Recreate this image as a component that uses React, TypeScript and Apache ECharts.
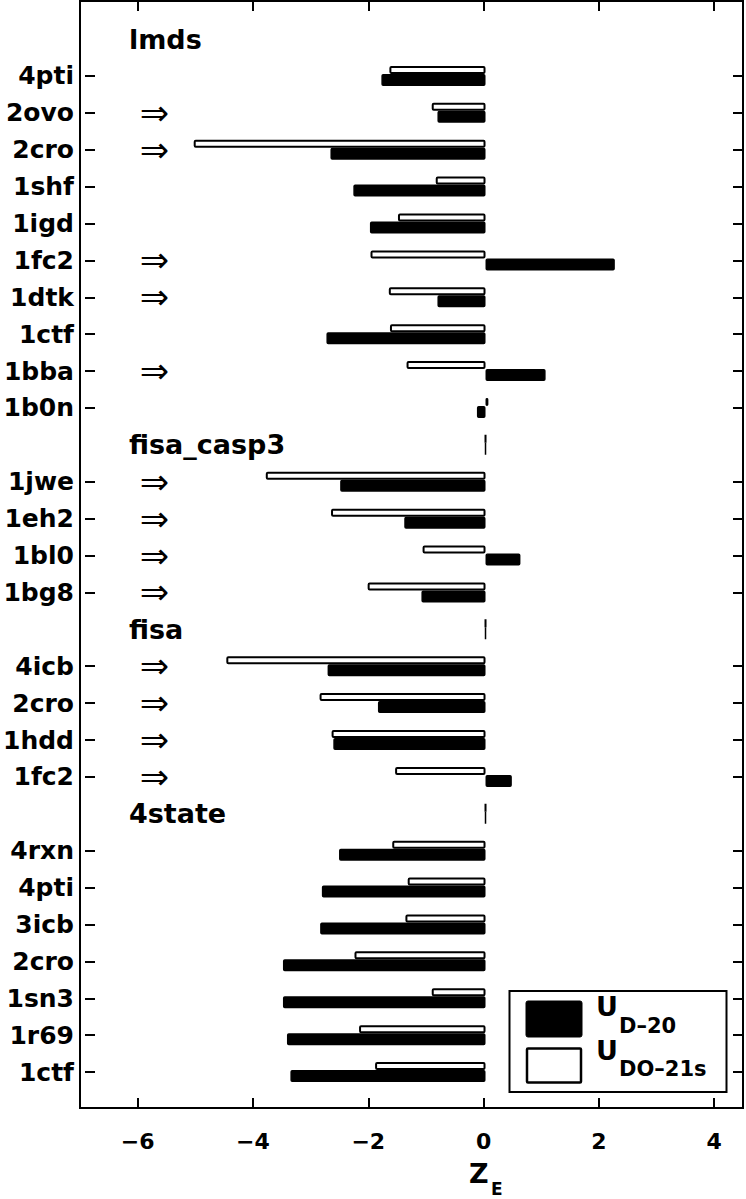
import React, { useEffect, useRef } from 'react';
import * as echarts from 'echarts';

// ---------- data ----------
const groupNames = ['lmds', 'fisa_casp3', 'fisa', '4state'];
// header rows carry no target; empty (null) or zero marks as drawn in the figure
const headerD20: (number | null)[] = [null, 0, 0, 0];
const headerDO21s: (number | null)[] = [null, 0, 0, 0];

const lmdsTargets = ['4pti', '2ovo', '2cro', '1shf', '1igd', '1fc2', '1dtk', '1ctf', '1bba', '1b0n'];
const lmdsD20 = [-1.82, -0.84, -2.71, -2.31, -2.02, 2.26, -0.84, -2.78, 1.05, -0.15];
const lmdsDO21s = [-1.68, -0.94, -5.1, -0.87, -1.53, -2.01, -1.69, -1.67, -1.38, 0.05];
const lmdsArrow = [0, 1, 1, 0, 0, 1, 1, 0, 1, 0];

const casp3Targets = ['1jwe', '1eh2', '1bl0', '1bg8'];
const casp3D20 = [-2.54, -1.42, 0.61, -1.12];
const casp3DO21s = [-3.84, -2.7, -1.1, -2.06];
const casp3Arrow = [1, 1, 1, 1];

const fisaTargets = ['4icb', '2cro', '1hdd', '1fc2'];
const fisaD20 = [-2.76, -1.88, -2.66, 0.46];
const fisaDO21s = [-4.53, -2.9, -2.69, -1.58];
const fisaArrow = [1, 1, 1, 1];

const state4Targets = ['4rxn', '4pti', '3icb', '2cro', '1sn3', '1r69', '1ctf'];
const state4D20 = [-2.56, -2.86, -2.89, -3.54, -3.54, -3.47, -3.41];
const state4DO21s = [-1.63, -1.36, -1.4, -2.29, -0.94, -2.21, -1.93];
const state4Arrow = [0, 0, 0, 0, 0, 0, 0];

const xTickValues = [-6, -4, -2, 0, 2, 4];
const xMin = -7;
const xMax = 4.5;

const seriesNames = ['U_D-20', 'U_DO-21s'];

// ---------- build rows ----------
const groups = [
  { targets: lmdsTargets, d20: lmdsD20, do21s: lmdsDO21s, arrow: lmdsArrow },
  { targets: casp3Targets, d20: casp3D20, do21s: casp3DO21s, arrow: casp3Arrow },
  { targets: fisaTargets, d20: fisaD20, do21s: fisaDO21s, arrow: fisaArrow },
  { targets: state4Targets, d20: state4D20, do21s: state4DO21s, arrow: state4Arrow },
];

const categories: string[] = [];
const isHeader: boolean[] = [];
const hasArrow: boolean[] = [];
const d20Data: (number | null)[] = [];
const do21Data: (number | null)[] = [];
groups.forEach((g, gi) => {
  categories.push(groupNames[gi]);
  isHeader.push(true);
  hasArrow.push(false);
  d20Data.push(headerD20[gi]);
  do21Data.push(headerDO21s[gi]);
  g.targets.forEach((t, i) => {
    categories.push(t);
    isHeader.push(false);
    hasArrow.push(!!g.arrow[i]);
    d20Data.push(g.d20[i]);
    do21Data.push(g.do21s[i]);
  });
});

const FONT = 'DejaVu Sans';
const W = 746;
const H = 1199;

export default function App() {
  const ref = useRef<HTMLDivElement>(null);
  useEffect(() => {
    document.body.style.margin = '0';
    if (!ref.current) return;
    const chart = echarts.init(ref.current, undefined, { renderer: 'svg', width: W, height: H });

    const tickStyle = { color: '#000', width: 2 };
    const frameGrid = { left: 80, right: 3, top: 1, bottom: 91 };
    const barGrid = { left: 80, right: 3, top: 20.6, bottom: 108.5 };
    const noLine = { show: false, onZero: false };

    const catAxisBase = {
      gridIndex: 1,
      type: 'category',
      data: categories,
      inverse: true,
      axisLine: noLine,
      splitLine: { show: false },
    };

    const option: any = {
      animation: false,
      backgroundColor: '#fff',
      grid: [
        { ...frameGrid, show: true, borderColor: '#000', borderWidth: 2, backgroundColor: 'transparent' },
        { ...barGrid },
      ],
      xAxis: [
        {
          gridIndex: 0,
          type: 'value',
          position: 'bottom',
          min: xMin,
          max: xMax,
          axisLine: noLine,
          splitLine: { show: false },
          axisTick: { show: true, inside: true, length: 10, lineStyle: tickStyle, customValues: xTickValues },
          axisLabel: {
            customValues: xTickValues,
            margin: 22,
            color: '#000',
            fontFamily: FONT,
            fontWeight: 'bold',
            fontSize: 22,
            formatter: (v: number) => String(v).replace('-', '\u2212'),
          },
        },
        {
          gridIndex: 0,
          type: 'value',
          position: 'top',
          min: xMin,
          max: xMax,
          axisLine: noLine,
          splitLine: { show: false },
          axisTick: { show: true, inside: true, length: 10, lineStyle: tickStyle, customValues: xTickValues },
          axisLabel: { show: false },
        },
        {
          gridIndex: 1,
          type: 'value',
          min: xMin,
          max: xMax,
          show: false,
          axisLine: noLine,
        },
      ],
      yAxis: [
        { gridIndex: 0, type: 'value', show: false, axisLine: noLine },
        {
          ...catAxisBase,
          position: 'left',
          axisTick: {
            show: true,
            inside: true,
            length: 10,
            alignWithLabel: true,
            interval: (i: number) => !isHeader[i],
            lineStyle: tickStyle,
          },
          axisLabel: {
            interval: 0,
            margin: 11,
            color: '#000',
            fontFamily: FONT,
            fontWeight: 'bold',
            fontSize: 25,
            formatter: (v: string, i: number) => (isHeader[i] ? '' : v),
          },
        },
        {
          ...catAxisBase,
          position: 'right',
          axisTick: {
            show: true,
            inside: true,
            length: 10,
            alignWithLabel: true,
            interval: (i: number) => !isHeader[i],
            lineStyle: tickStyle,
          },
          axisLabel: { show: false },
        },
        {
          ...catAxisBase,
          position: 'left',
          offset: -44,
          axisTick: { show: false },
          axisLabel: {
            interval: 0,
            margin: 0,
            align: 'left',
            color: '#000',
            fontFamily: FONT,
            fontWeight: 'bold',
            fontSize: 27,
            padding: [6, 0, 0, 0],
            formatter: (v: string, i: number) => (isHeader[i] ? v : ''),
          },
        },
        {
          ...catAxisBase,
          position: 'left',
          offset: -69.5,
          axisTick: { show: false },
          axisLabel: {
            interval: 0,
            margin: 0,
            align: 'center',
            color: '#000',
            fontFamily: FONT,
            fontSize: 35,
            formatter: (v: string, i: number) => (hasArrow[i] ? '\u21D2' : ''),
          },
        },
      ],
      series: [
        {
          type: 'bar',
          name: seriesNames[1],
          xAxisIndex: 2,
          yAxisIndex: 1,
          data: do21Data,
          barWidth: 8,
          barGap: '0%',
          itemStyle: { color: '#fff', borderColor: '#000', borderWidth: 2, borderRadius: 1 },
        },
        {
          type: 'bar',
          name: seriesNames[0],
          xAxisIndex: 2,
          yAxisIndex: 1,
          data: d20Data,
          barWidth: 12,
          barGap: '0%',
          itemStyle: { color: '#000', borderColor: '#000', borderWidth: 1.5, borderRadius: 1 },
        },
      ],
      graphic: [
        // x-axis title Z_E
        {
          type: 'text',
          left: 469,
          top: 1160,
          style: { text: 'Z', fontFamily: FONT, fontWeight: 'bold', fontSize: 27, fill: '#000' },
        },
        {
          type: 'text',
          left: 491,
          top: 1180,
          style: { text: 'E', fontFamily: FONT, fontWeight: 'bold', fontSize: 17, fill: '#000' },
        },
        // legend
        {
          type: 'rect',
          shape: { x: 509.5, y: 991, width: 217, height: 101 },
          style: { fill: '#fff', stroke: '#000', lineWidth: 2 },
          z: 10,
        },
        {
          type: 'rect',
          shape: { x: 526, y: 1001, width: 56, height: 36, r: 2 },
          style: { fill: '#000', stroke: '#000', lineWidth: 1 },
          z: 11,
        },
        {
          type: 'rect',
          shape: { x: 527, y: 1048.5, width: 54, height: 34, r: 1 },
          style: { fill: '#fff', stroke: '#000', lineWidth: 2.5 },
          z: 11,
        },
        {
          type: 'text',
          x: 596,
          y: 1006.7,
          style: { text: 'U', fontFamily: FONT, fontWeight: 'bold', fontSize: 27, fill: '#000', verticalAlign: 'middle', align: 'left' },
          z: 11,
        },
        {
          type: 'text',
          x: 619,
          y: 1025.5,
          style: { text: 'D\u201320', fontFamily: FONT, fontWeight: 'bold', fontSize: 21, fill: '#000', verticalAlign: 'middle', align: 'left' },
          z: 11,
        },
        {
          type: 'text',
          x: 596,
          y: 1050,
          style: { text: 'U', fontFamily: FONT, fontWeight: 'bold', fontSize: 27, fill: '#000', verticalAlign: 'middle', align: 'left' },
          z: 11,
        },
        {
          type: 'text',
          x: 619,
          y: 1069.2,
          style: { text: 'DO\u201321s', fontFamily: FONT, fontWeight: 'bold', fontSize: 21, fill: '#000', verticalAlign: 'middle', align: 'left' },
          z: 11,
        },
      ],
    };
    chart.setOption(option);
    return () => chart.dispose();
  }, []);
  return <div ref={ref} style={{ width: W, height: H }} />;
}
